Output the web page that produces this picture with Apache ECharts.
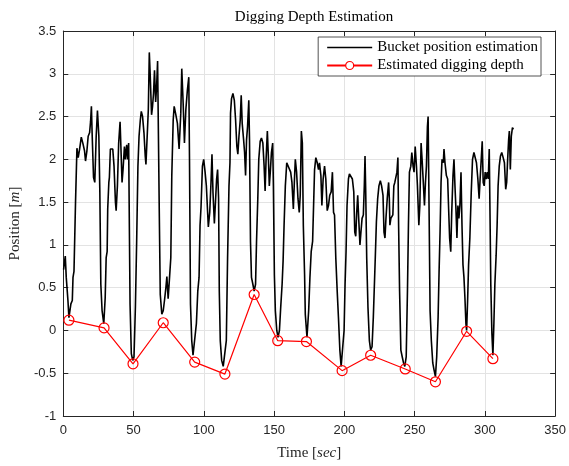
<!DOCTYPE html>
<html><head><meta charset="utf-8">
<script src="https://cdn.jsdelivr.net/npm/echarts@6/dist/echarts.min.js"></script>
<style>html,body{margin:0;padding:0;background:#fff}#c{width:569px;height:466px}</style>
</head><body><div id="c"></div>
<script>
// Bucket position estimation (time [sec], position [m])
const bucketTime = [0.2,1.4,2.1,3.3,4,5.4,6.4,6.9,7.6,8.7,9.7,10.6,11.6,12.8,13.9,15.1,15.8,16.8,17.7,18.7,19.4,20,20.5,21.5,22.4,23.4,24.3,25.3,26,26.7,27.6,28.8,29.8,30.5,31.2,31.6,32.4,32.8,33.5,35.2,36.1,37.1,37.6,38.5,39.4,40.4,40.9,41.8,42.5,43.5,44.2,45.1,45.8,46.5,47,47.5,48.4,49.4,50.3,51.3,52.2,53.1,53.9,54.8,55.5,56.4,57.4,58.3,58.8,59.8,60.5,61.2,61.9,62.8,63.5,64.2,64.9,65.7,66.4,67.1,67.6,68.3,69,70.1,71.1,72,73,73.7,74.6,75.6,76.5,77.2,78.2,78.9,80.1,
81.2,82.4,83.6,84.3,85.3,86.2,87.2,88.3,89.3,89.8,90.5,91.4,92.3,93.5,94.7,95.7,96.6,97.3,98,99,99.9,100.9,101.8,102.7,103.2,104.2,105.1,105.8,106.5,107.5,108.4,109.1,109.8,110.5,111,111.7,112.7,113.8,115,116,116.9,117.9,118.6,119,119.7,120.7,121.7,122.6,123.5,124.2,125,125.9,126.6,127.3,128.3,129,129.7,130.4,131.1,132,132.5,133.2,133.9,134.9,135.8,136.8,137.5,138.4,139.1,140.1,141,142,142.9,143.6,144.3,145.2,145.9,146.6,147.4,148.1,149,149.5,150.2,150.9,151.9,152.8,153.8,154.7,155.7,156.4,157.1,158,159,160.4,161.8,162.7,163.7,164.4,165.1,166,167,167.9,168.6,169.4,170.1,170.8,171.7,
172.2,173.4,174.6,175.5,176.4,177.4,178.1,178.8,179.7,180.7,181.6,182.3,183.3,184,184.9,185.9,186.8,187.8,188.7,189.6,190.6,191.5,192.3,193,193.9,194.9,195.8,196.8,197.7,198.9,199.8,200.5,201.2,201.9,202.9,203.6,204.8,205.7,206.7,207.4,208.1,208.8,209.5,210.2,211.1,211.8,212.6,213.5,214.2,214.7,215.2,215.9,216.8,217.8,218.7,219.7,220.6,221.3,222,222.8,223.7,224.6,225.6,226.5,227.5,228.2,228.9,229.6,230.5,231.5,232,232.4,233.1,233.8,234.5,235.2,235.9,236.7,237.4,238.1,238.6,239.3,240.2,241.2,242.1,243,244,244.9,245.6,246.3,247.3,248,248.9,249.6,250.4,251.3,252,253,253.7,254.6,255.3,256.3,257,
257.7,258.4,259.1,259.6,260.3,261,261.9,262.9,263.8,264.8,265.7,266.7,267.4,268.1,268.8,269.5,270.4,270.9,271.6,272.6,273.5,274.2,274.9,275.7,276.4,277.3,278,278.7,279.4,280.1,280.8,281.5,282.2,283,283.7,284.4,285.1,285.8,286.5,287,287.7,288.4,289.3,290.3,291.2,292.2,293.1,294,295,295.9,296.6,297.4,298.1,298.8,299.5,300.2,300.9,301.7,302.4,303.1,303.6,304.2,305,305.7,306.4,307.1,308,308.7,309.4,310.2,311.1,312,313,313.9,314.8,315.5,316.2,316.9,317.4,318.1,318.8,319.6,320.3];
const bucketPos = [0.71,0.87,0.62,0.35,0.15,0.31,0.35,0.62,0.69,1.5,2.13,2.02,2.12,2.26,2.19,2.1,1.98,2.1,2.27,2.31,2.44,2.62,2.31,1.79,1.73,2.27,2.57,2.27,1.62,0.54,0.23,0.08,0.38,0.85,0.92,1.42,1.73,1.79,2.12,2.12,1.92,1.5,1.4,1.69,2.19,2.44,2.19,1.73,1.88,2.15,2.0,2.17,2.0,2.19,1.23,0.31,-0.27,-0.35,-0.31,0.27,1.04,1.92,2.27,2.46,2.56,2.5,2.31,2.04,1.94,2.31,2.58,3.25,2.96,2.52,2.62,2.77,3.04,2.67,2.85,3.15,3.17,1.38,0.42,0.19,0.23,0.35,0.5,0.63,0.37,0.62,0.85,1.81,2.46,2.62,2.52,
2.42,2.12,2.54,3.06,2.65,2.19,2.58,2.81,2.96,2.0,0.31,-0.12,-0.29,-0.31,0.08,0.46,0.62,1.23,1.44,1.92,2.0,1.85,1.69,1.38,1.21,1.38,1.73,2.06,1.62,1.25,1.54,1.77,1.88,1.54,0.46,-0.12,-0.35,-0.42,-0.44,-0.12,0.85,1.69,1.96,2.54,2.71,2.77,2.69,2.46,2.15,2.06,2.27,2.46,2.75,2.42,2.23,2.08,1.81,2.23,2.38,2.69,2.23,1.04,0.62,0.54,0.46,0.54,1.04,1.54,2.0,2.21,2.25,2.19,1.92,1.63,2.0,2.33,2.04,1.69,1.88,2.08,2.19,1.69,0.65,0.23,0.0,-0.08,0.0,0.27,0.54,0.81,1.23,1.69,1.96,1.96,1.85,1.73,1.42,1.73,2.0,1.85,1.54,1.38,1.58,2.33,2.19,1.23,0.65,
0.19,-0.08,0.23,0.62,0.92,1.04,1.46,1.88,2.02,1.96,1.88,1.96,1.81,1.46,1.77,1.92,1.77,1.4,1.46,1.58,1.62,1.85,1.38,1.35,0.85,0.46,0.15,-0.23,-0.42,-0.42,0.0,0.54,0.92,1.46,1.77,1.83,1.83,1.77,1.62,1.15,1.1,1.38,1.58,1.31,1.0,1.15,1.31,1.35,1.69,2.04,1.62,0.85,0.27,-0.12,-0.23,-0.19,0.15,0.5,0.85,1.27,1.54,1.69,1.75,1.69,1.58,1.15,1.08,1.31,1.54,1.73,1.54,1.23,1.31,1.33,1.35,1.69,1.73,1.73,1.85,2.02,1.23,0.46,-0.23,-0.31,-0.38,-0.42,-0.31,0.46,1.23,1.85,1.92,2.08,1.92,1.85,2.15,1.92,1.69,1.23,1.46,2.19,2.0,1.69,1.46,
1.73,1.92,2.38,2.5,1.38,0.23,-0.12,-0.38,-0.46,-0.54,-0.31,0.15,0.69,1.15,1.73,2.0,1.96,2.12,1.96,1.81,1.77,1.42,1.08,0.92,1.38,1.81,2.0,1.69,1.42,1.08,1.46,1.31,1.46,1.85,1.23,0.77,0.62,0.38,0.08,0.0,0.35,0.77,1.08,1.62,2.0,2.08,2.06,1.96,1.77,1.54,1.77,2.0,2.21,1.73,1.69,1.85,1.77,1.85,1.77,2.12,1.42,0.54,-0.04,-0.29,0.08,0.54,0.88,1.23,1.69,1.92,2.04,2.08,2.02,1.96,1.65,1.73,2.0,2.23,2.33,1.88,2.27,2.37,2.35];
// Estimated digging depth
const depthTime = [4,29,49.6,71.1,93.5,115,135.8,152.6,173,198.4,218.7,243.3,264.8,287,305.7];
const depthVal  = [0.12,0.03,-0.39,0.09,-0.37,-0.51,0.42,-0.12,-0.13,-0.47,-0.29,-0.45,-0.6,-0.01,-0.33];
const xTicks = [0,50,100,150,200,250,300,350];
const yTicks = [-1,-0.5,0,0.5,1,1.5,2,2.5,3,3.5];

const serif = "'Liberation Serif', 'DejaVu Serif', serif";
const sans = "'Liberation Sans', Arial, sans-serif";
const axisCol = '#262626';
const chart = echarts.init(document.getElementById('c'), null, {renderer:'canvas'});
const gridLine = {show:true, lineStyle:{color:'#e3e3e3', width:1}};
const mkX = (pos, show) => ({
  type:'value', position:pos, min:xTicks[0], max:xTicks[xTicks.length-1], interval:xTicks[1]-xTicks[0],
  axisLine:{show:true, onZero:false, lineStyle:{color:axisCol, width:1}},
  axisTick:{show:true, inside:true, length:5, lineStyle:{color:axisCol}},
  axisLabel:{show:show, color:axisCol, fontFamily:sans, fontSize:13, margin:8},
  splitLine: show ? gridLine : {show:false}
});
const mkY = (pos, show) => ({
  type:'value', position:pos, min:yTicks[0], max:yTicks[yTicks.length-1], interval:yTicks[1]-yTicks[0],
  axisLine:{show:true, onZero:false, lineStyle:{color:axisCol, width:1}},
  axisTick:{show:true, inside:true, length:5, lineStyle:{color:axisCol}},
  axisLabel:{show:show, color:axisCol, fontFamily:sans, fontSize:13, margin:7,
    formatter: v => String(v)},
  splitLine: show ? gridLine : {show:false}
});
const rich = {n:{fontFamily:serif, fontSize:15, color:axisCol}, i:{fontFamily:serif, fontStyle:'italic', fontSize:15, color:axisCol}};
const xb = mkX('bottom', true);
xb.name = '{n|Time }{n|[}{i|sec}{n|]}';
xb.nameLocation = 'middle'; xb.nameGap = 30;
xb.nameTextStyle = {rich};
const yl = mkY('left', true);
yl.name = '{n|Position }{n|[}{i|m}{n|]}';
yl.nameLocation = 'middle'; yl.nameGap = 39;
yl.nameTextStyle = {rich};

chart.setOption({
  animation:false,
  backgroundColor:'#ffffff',
  title:{text:'Digging Depth Estimation', left:309, top:5, textAlign:'center',
    textStyle:{fontFamily:serif, fontSize:15, fontWeight:'normal', color:'#000'}},
  grid:{left:62, right:13, top:31, bottom:49, containLabel:false},
  xAxis:[xb, mkX('top', false)],
  yAxis:[yl, mkY('right', false)],
  legend:{
    right:28, top:37, orient:'vertical', align:'left',
    backgroundColor:'#ffffff', borderColor:axisCol, borderWidth:0.8, borderRadius:0,
    padding:[3,3,3,8], itemGap:3, itemWidth:45, itemHeight:10,
    textStyle:{fontFamily:serif, fontSize:15, color:'#000'},
    data:[
      {name:'Bucket position estimation', icon:'path://M0,0L45,0L45,1.6L0,1.6Z'},
      {name:'Estimated digging depth', itemStyle:{color:'#ffffff', borderColor:'#ff0000', borderWidth:1.2}}
    ]
  },
  series:[
    {name:'Bucket position estimation', type:'line', xAxisIndex:0, yAxisIndex:0,
     data: bucketTime.map((t,i)=>[t,bucketPos[i]]), showSymbol:false, symbol:'none',
     lineStyle:{color:'#000', width:1.6}, itemStyle:{color:'#000'}},
    {name:'Estimated digging depth', type:'line', xAxisIndex:0, yAxisIndex:0,
     data: depthTime.map((t,i)=>[t,depthVal[i]]), symbol:'circle', symbolSize:10,
     lineStyle:{color:'#ff0000', width:1.2}, itemStyle:{color:'rgba(255,255,255,0)', borderColor:'#ff0000', borderWidth:1.2}}
  ]
});
</script></body></html>
